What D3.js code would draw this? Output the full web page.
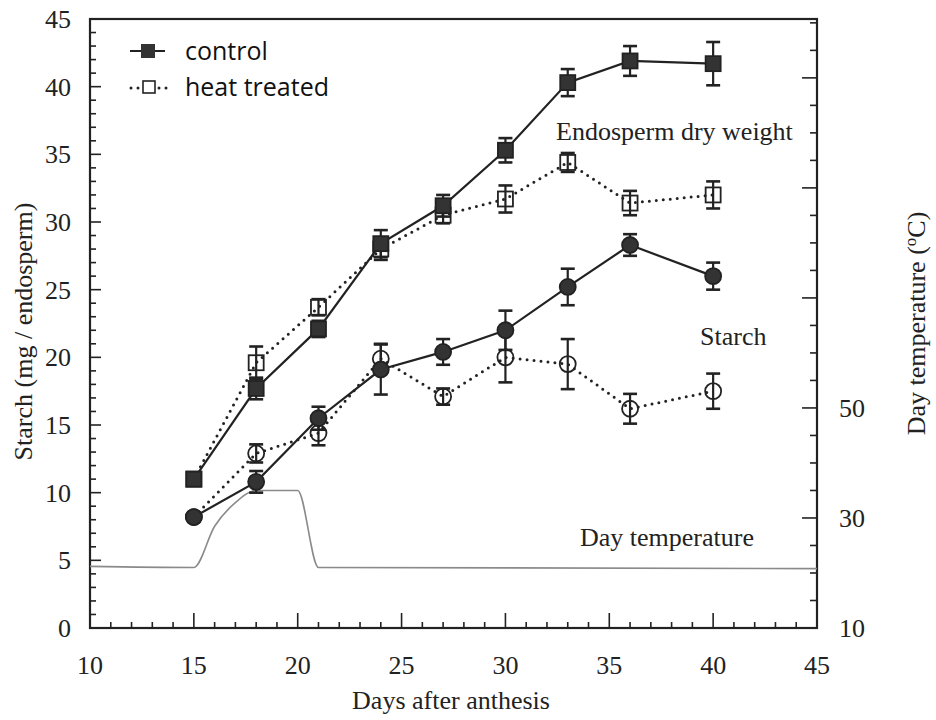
<!DOCTYPE html>
<html>
<head>
<meta charset="utf-8">
<script src="https://cdn.jsdelivr.net/npm/d3@7/dist/d3.min.js"></script>
<style>
  body { margin: 0; background: #fff; }
  svg { display: block; }
</style>
</head>
<body>
<svg id="chart" width="936" height="720"></svg>
<script>
// ---- data ----
const days = [15, 18, 21, 24, 27, 30, 33, 36, 40];
const dryControl = [11.0, 17.7, 22.1, 28.4, 31.2, 35.3, 40.3, 41.9, 41.7];
const dryControlErr = [0.3, 0.8, 0.6, 1.0, 0.8, 0.9, 1.0, 1.1, 1.6];
const dryHeat = [11.0, 19.6, 23.7, 28.0, 30.5, 31.7, 34.4, 31.4, 32.0];
const dryHeatErr = [0.3, 1.2, 0.6, 0.8, 0.6, 1.0, 0.7, 0.9, 1.0];
const starchControl = [8.2, 10.8, 15.5, 19.1, 20.4, 22.0, 25.2, 28.3, 26.0];
const starchControlErr = [0.3, 0.8, 0.85, 1.85, 0.95, 1.45, 1.35, 0.8, 1.0];
const starchHeat = [8.2, 12.9, 14.4, 19.9, 17.1, 20.0, 19.5, 16.2, 17.5];
const starchHeatErr = [0.3, 0.67, 0.9, 1.1, 0.6, 1.85, 1.85, 1.1, 1.3];
const tempDays = [10, 15, 16, 17, 18, 20, 21, 45];
const tempValues = [21.2, 21.0, 28.5, 32.8, 35.0, 35.0, 21.0, 20.8];
const xTicks = [10, 15, 20, 25, 30, 35, 40, 45];
const yTicks = [0, 5, 10, 15, 20, 25, 30, 35, 40, 45];
const tTickLabels = [10, 30, 50];

// ---- layout ----
const svg = d3.select("#chart");
const L = 90, R = 817, T = 19, B = 628;
const x = d3.scaleLinear().domain([10, 45]).range([L, R]);
const y = d3.scaleLinear().domain([0, 45]).range([B, T]);
const t = d3.scaleLinear().domain([10, 120.7]).range([B, T]);
const ink = "#222";
const serif = "'Liberation Serif', 'DejaVu Serif', serif";
const FS = 26;

// frame
svg.append("rect").attr("x", L).attr("y", T).attr("width", R - L).attr("height", B - T)
  .attr("fill", "none").attr("stroke", ink).attr("stroke-width", 2.2);

// left axis (inward ticks)
const gy = svg.append("g").attr("transform", `translate(${L},0)`);
gy.selectAll("line.tk").data(d3.range(1, 45, 1)).join("line")
  .attr("x1", 0).attr("x2", d => d % 5 === 0 ? 11 : 6)
  .attr("y1", d => y(d)).attr("y2", d => y(d))
  .attr("stroke", ink).attr("stroke-width", 1.6);
gy.selectAll("text").data(yTicks).join("text")
  .attr("x", -19).attr("y", d => y(d)).attr("dy", "0.35em")
  .attr("text-anchor", "end").attr("font-family", serif).attr("font-size", FS).attr("fill", ink)
  .text(d => d);

// bottom axis (inward ticks)
const gx = svg.append("g");
gx.selectAll("line").data(d3.range(11, 45, 1)).join("line")
  .attr("x1", d => x(d)).attr("x2", d => x(d))
  .attr("y1", B).attr("y2", d => d % 5 === 0 ? B - 15 : B - 6)
  .attr("stroke", ink).attr("stroke-width", 1.6);
gx.selectAll("text").data(xTicks).join("text")
  .attr("x", d => x(d)).attr("y", B + 46)
  .attr("text-anchor", "middle").attr("font-family", serif).attr("font-size", FS).attr("fill", ink)
  .text(d => d);

// right axis (temperature)
const gt = svg.append("g");
gt.selectAll("line").data(d3.range(15, 121, 5)).join("line")
  .attr("x1", R).attr("x2", d => (d - 10) % 20 === 0 ? R - 15 : R - 7)
  .attr("y1", d => t(d)).attr("y2", d => t(d))
  .attr("stroke", ink).attr("stroke-width", 1.6);
gt.selectAll("text").data(tTickLabels).join("text")
  .attr("x", R + 22).attr("y", d => t(d)).attr("dy", "0.35em")
  .attr("text-anchor", "start").attr("font-family", serif).attr("font-size", FS).attr("fill", ink)
  .text(d => d);

// axis titles
svg.append("text").attr("transform", `translate(32,${(T + B) / 2 + 8}) rotate(-90)`)
  .attr("text-anchor", "middle").attr("font-family", serif).attr("font-size", FS).attr("fill", ink)
  .text("Starch (mg / endosperm)");
const rt = svg.append("text").attr("transform", `translate(925,${(T + B) / 2}) rotate(-90)`)
  .attr("text-anchor", "middle").attr("font-family", serif).attr("font-size", FS).attr("fill", ink);
rt.append("tspan").text("Day temperature (");
rt.append("tspan").attr("baseline-shift", "super").attr("font-size", 17).text("o");
rt.append("tspan").text("C)");
svg.append("text").attr("x", 451).attr("y", 709)
  .attr("text-anchor", "middle").attr("font-family", serif).attr("font-size", FS).attr("fill", ink)
  .text("Days after anthesis");

// temperature line
const tempData = tempDays.map((d, i) => [d, tempValues[i]]);
svg.append("path").datum(tempData)
  .attr("d", d3.line().x(d => x(d[0])).y(d => t(d[1])).curve(d3.curveMonotoneX))
  .attr("fill", "none").attr("stroke", "#8a8a8a").attr("stroke-width", 1.6);

// series drawing helpers
const line = d3.line().x(d => x(d[0])).y(d => y(d[1]));
function drawSeries(vals, errs, dotted, shape, filled) {
  const data = days.map((d, i) => [d, vals[i], errs[i]]);
  const g = svg.append("g");
  g.append("path").datum(data).attr("d", line).attr("fill", "none")
    .attr("stroke", ink)
    .attr("stroke-width", dotted ? 3 : 2.2)
    .attr("stroke-linecap", dotted ? "round" : "butt")
    .attr("stroke-dasharray", dotted ? "0,7" : null);
  const eb = g.selectAll("g.eb").data(data).join("g");
  eb.append("line").attr("x1", d => x(d[0])).attr("x2", d => x(d[0]))
    .attr("y1", d => y(d[1] - d[2])).attr("y2", d => y(d[1] + d[2]))
    .attr("stroke", ink).attr("stroke-width", 2.2);
  [-1, 1].forEach(s => {
    eb.append("line").attr("x1", d => x(d[0]) - 7).attr("x2", d => x(d[0]) + 7)
      .attr("y1", d => y(d[1] + s * d[2])).attr("y2", d => y(d[1] + s * d[2]))
      .attr("stroke", ink).attr("stroke-width", 2.6);
  });
  if (shape === "square") {
    g.selectAll("rect.m").data(data).join("rect")
      .attr("x", d => x(d[0]) - 7.5).attr("y", d => y(d[1]) - 7.5)
      .attr("width", 15).attr("height", 15)
      .attr("fill", filled ? "#333" : "none").attr("stroke", ink).attr("stroke-width", 1.8);
  } else {
    g.selectAll("circle.m").data(data).join("circle")
      .attr("cx", d => x(d[0])).attr("cy", d => y(d[1])).attr("r", 8)
      .attr("fill", filled ? "#333" : "none").attr("stroke", ink).attr("stroke-width", 1.8);
  }
}
drawSeries(dryHeat, dryHeatErr, true, "square", false);
drawSeries(starchHeat, starchHeatErr, true, "circle", false);
drawSeries(dryControl, dryControlErr, false, "square", true);
drawSeries(starchControl, starchControlErr, false, "circle", true);

// annotations
const ann = [["Endosperm dry weight", 556, 140], ["Starch", 700, 345], ["Day temperature", 580, 546]];
svg.selectAll("text.ann").data(ann).join("text").attr("class", "ann")
  .attr("x", d => d[1]).attr("y", d => d[2])
  .attr("font-family", serif).attr("font-size", FS).attr("fill", ink)
  .text(d => d[0]);

// legend
const lg = svg.append("g");
lg.append("line").attr("x1", 130).attr("x2", 165).attr("y1", 51).attr("y2", 51)
  .attr("stroke", ink).attr("stroke-width", 2.2);
lg.append("rect").attr("x", 141).attr("y", 44).attr("width", 14).attr("height", 14).attr("fill", "#333");
lg.append("line").attr("x1", 131).attr("x2", 168).attr("y1", 88).attr("y2", 88)
  .attr("stroke", ink).attr("stroke-width", 3).attr("stroke-linecap", "round").attr("stroke-dasharray", "0,7");
lg.append("rect").attr("x", 143).attr("y", 81).attr("width", 12).attr("height", 12)
  .attr("fill", "#fff").attr("stroke", ink).attr("stroke-width", 1.6);
lg.selectAll("text").data([["control", 60], ["heat treated", 96]]).join("text")
  .attr("x", 185).attr("y", d => d[1])
  .attr("font-family", "'Open Sans', sans-serif").attr("font-size", 25).attr("fill", "#111")
  .text(d => d[0]);
</script>
</body>
</html>
